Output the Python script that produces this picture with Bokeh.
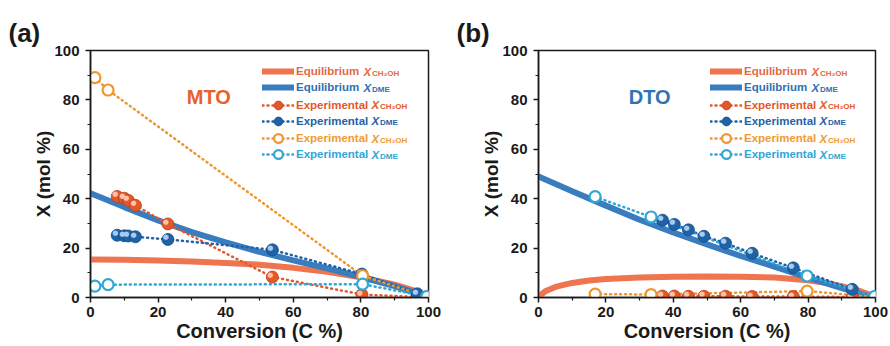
from bokeh.plotting import figure
from bokeh.layouts import row
from bokeh.models import Range1d, Label, Legend, LegendItem, ColumnDataSource, FixedTicker
from bokeh.embed import file_html
from bokeh.resources import INLINE
from bokeh.core.properties import value

FONT = "Liberation Sans"

# ---------------- tick values ----------------
major_ticks = [0, 20, 40, 60, 80, 100]
minor_ticks = [10, 30, 50, 70, 90]

# ---------------- panel (a) MTO ----------------
a_eq_meoh_x = [0, 10, 20, 30, 40, 50, 60, 70, 80, 90, 97]
a_eq_meoh_y = [15.4, 15.3, 15.0, 14.6, 14.0, 13.3, 12.0, 10.4, 8.2, 5.2, 2.3]
a_eq_dme_x = [0, 10, 20, 30, 40, 50, 60, 70, 80, 90, 97]
a_eq_dme_y = [42.2, 36.6, 31.2, 26.5, 22.3, 18.5, 15.0, 11.8, 8.3, 4.6, 1.5]
a_exp_meoh_x = [7.9, 10.0, 11.2, 13.3, 22.9, 53.8, 80.3, 96.7]
a_exp_meoh_y = [40.9, 40.2, 39.3, 37.3, 29.8, 8.3, 1.2, 0.2]
a_exp_dme_x = [7.9, 10.0, 11.2, 13.3, 22.9, 53.8, 80.3, 96.7]
a_exp_dme_y = [25.2, 25.0, 24.9, 24.6, 23.5, 19.3, 9.5, 1.5]
a_open_meoh_x = [1.3, 5.2, 80.5, 99.5]
a_open_meoh_y = [89.0, 84.0, 8.8, 0.3]
a_open_dme_x = [1.3, 5.2, 80.5, 99.5]
a_open_dme_y = [4.6, 5.2, 5.4, 0.4]

# ---------------- panel (b) DTO ----------------
b_eq_meoh_x = [0, 2, 5, 10, 15, 20, 30, 40, 50, 60, 70, 80, 85, 90, 95, 99]
b_eq_meoh_y = [0.3, 2.5, 4.3, 5.9, 6.9, 7.5, 8.1, 8.4, 8.5, 8.4, 8.1, 7.0, 6.0, 4.6, 2.8, 0.8]
b_eq_dme_x = [0, 10, 20, 30, 40, 50, 60, 70, 80, 90, 98]
b_eq_dme_y = [49.0, 43.0, 37.2, 31.5, 26.3, 21.5, 16.8, 12.5, 8.0, 3.8, 0.5]
b_exp_meoh_x = [36.8, 40.3, 44.5, 49.1, 55.5, 63.4, 75.6, 93.1]
b_exp_meoh_y = [0.6, 0.6, 0.5, 0.5, 0.5, 0.4, 0.4, 0.2]
b_exp_dme_x = [36.8, 40.3, 44.5, 49.1, 55.5, 63.4, 75.6, 93.1]
b_exp_dme_y = [31.3, 29.6, 27.4, 24.8, 22.0, 17.9, 12.0, 3.3]
b_open_meoh_x = [16.8, 33.4, 79.7, 99.7]
b_open_meoh_y = [1.4, 1.2, 2.6, 0.2]
b_open_dme_x = [16.8, 33.4, 79.7, 99.7]
b_open_dme_y = [40.8, 32.6, 8.7, 0.4]

# ---------------- colours ----------------
EQ_ME = "#EE7550"
EQ_DME = "#3A7DBF"
EX_ME, EX_ME_EDGE, EX_ME_HL = "#E4572A", "#B8401A", "#FBC2AA"
EX_DME, EX_DME_EDGE, EX_DME_HL = "#1E63A8", "#134B85", "#A9CBEE"
OP_ME = "#F0962E"
OP_DME = "#2EA7D6"
TXT = "#1a1a1a"

LEG_TEXT = [("Equilibrium", "#E36A45", "CH\u2083OH"),
            ("Equilibrium", "#2F70B3", "DME"),
            ("Experimental", "#E4572A", "CH\u2083OH"),
            ("Experimental", "#1E63A8", "DME"),
            ("Experimental", "#F09A33", "CH\u2083OH"),
            ("Experimental", "#2EA7D6", "DME")]
ROW_Y = [226, 210, 192.5, 176.5, 159, 143]  # frame px from bottom (row centres)


def balls(p, xs, ys, col, edge, hl, size=12):
    src = ColumnDataSource(dict(x=xs, y=ys, t=["\u25CF"] * len(xs)))
    r = p.scatter("x", "y", source=src, size=size, fill_color=col, line_color=edge, line_width=0.8)
    p.text("x", "y", text="t", source=src, text_font=value("DejaVu Sans"), text_font_size="7px",
           text_color=hl, text_align="center", text_baseline="middle", x_offset=-2, y_offset=-2)
    return r


def panel(tag, name, name_color, name_x, eq_me, eq_dme, ex_me, ex_dme, op_me, op_dme, bl, br):
    p = figure(width=445, height=346, x_range=Range1d(0, 100), y_range=Range1d(0, 100),
               output_backend="svg", toolbar_location=None,
               min_border_left=bl, min_border_right=br, min_border_top=50, min_border_bottom=49)
    p.grid.visible = False
    p.outline_line_color = TXT
    p.outline_line_width = 1.5
    for ax in (p.xaxis[0], p.yaxis[0]):
        ax.ticker = FixedTicker(ticks=major_ticks, minor_ticks=minor_ticks)
        ax.major_label_text_font = FONT
        ax.major_label_text_font_size = "15px"
        ax.major_label_text_font_style = "bold"
        ax.major_label_text_color = TXT
        ax.major_tick_out = 5
        ax.major_tick_in = 0
        ax.minor_tick_out = 3
        ax.minor_tick_in = 0
        ax.axis_line_width = 1.5
        ax.axis_line_color = TXT
        ax.major_tick_line_width = 1.5
        ax.major_tick_line_color = TXT
        ax.minor_tick_line_width = 1.2
        ax.minor_tick_line_color = TXT
        ax.axis_label_text_font = FONT
        ax.axis_label_text_font_style = "bold"
        ax.axis_label_text_color = TXT
    p.yaxis.major_label_standoff = 6
    p.yaxis.axis_label = "X (mol %)"
    p.yaxis.axis_label_text_font_size = "19px"
    p.yaxis.axis_label_standoff = -3
    p.xaxis.major_label_standoff = 4
    p.xaxis.axis_label = "Conversion (C %)"
    p.xaxis.axis_label_text_font_size = "20px"
    p.xaxis.axis_label_standoff = 0

    p.title.text = tag
    p.title.text_font = FONT
    p.title.text_font_size = "26px"
    p.title.text_font_style = "bold"
    p.title.text_color = TXT
    p.title.align = "left"
    p.title.offset = -82
    p.title.standoff = 5

    r_eq_me = p.line(eq_me[0], eq_me[1], line_color=EQ_ME, line_width=6, line_cap="round")
    r_eq_dme = p.line(eq_dme[0], eq_dme[1], line_color=EQ_DME, line_width=6, line_cap="round")

    dot = dict(line_width=2.5, line_dash="1 4", line_cap="round")
    l_ex_me = p.line(ex_me[0], ex_me[1], line_color=EX_ME, **dot)
    l_ex_dme = p.line(ex_dme[0], ex_dme[1], line_color=EX_DME, **dot)
    l_op_me = p.line(op_me[0], op_me[1], line_color=OP_ME, **dot)
    l_op_dme = p.line(op_dme[0], op_dme[1], line_color=OP_DME, **dot)

    m_ex_me = balls(p, ex_me[0], ex_me[1], EX_ME, EX_ME_EDGE, EX_ME_HL)
    m_ex_dme = balls(p, ex_dme[0], ex_dme[1], EX_DME, EX_DME_EDGE, EX_DME_HL)
    m_op_me = p.scatter(op_me[0], op_me[1], size=11, fill_color="white", line_color=OP_ME, line_width=2.2)
    m_op_dme = p.scatter(op_dme[0], op_dme[1], size=11, fill_color="white", line_color=OP_DME, line_width=2.2)

    icons = [[r_eq_me], [r_eq_dme], [l_ex_me, m_ex_me], [l_ex_dme, m_ex_dme],
             [l_op_me, m_op_me], [l_op_dme, m_op_dme]]

    for i, ((word, col, sub), rends) in enumerate(zip(LEG_TEXT, icons)):
        gh = 14 if word == "Equilibrium" else 22
        leg = Legend(items=[LegendItem(label=word, renderers=rends)],
                     location=(172, ROW_Y[i] - gh / 2), orientation="vertical",
                     border_line_alpha=0, background_fill_alpha=0, padding=0, margin=0,
                     glyph_width=32, glyph_height=gh, label_height=14, label_standoff=2,
                     label_text_font=FONT, label_text_font_size="11.5px",
                     label_text_font_style="bold", label_text_color=col)
        p.add_layout(leg)
        xx = 273 if word == "Equilibrium" else 281
        p.add_layout(Label(x=xx, y=ROW_Y[i], x_units="screen", y_units="screen", text="X",
                           text_font=FONT, text_font_size="11.5px", text_font_style="bold italic",
                           text_color=col, text_baseline="middle"))
        p.add_layout(Label(x=xx + 8.5, y=ROW_Y[i] - 1.5, x_units="screen", y_units="screen", text=sub,
                           text_font=FONT, text_font_size="8px", text_font_style="bold",
                           text_color=col, text_baseline="middle"))

    p.add_layout(Label(x=name_x, y=81, text=name, text_font=FONT, text_font_size="20px",
                       text_font_style="bold", text_color=name_color,
                       text_align="center", text_baseline="middle"))
    return p


pa = panel("(a)", "MTO", "#E8602D", 35,
           (a_eq_meoh_x, a_eq_meoh_y), (a_eq_dme_x, a_eq_dme_y),
           (a_exp_meoh_x, a_exp_meoh_y), (a_exp_dme_x, a_exp_dme_y),
           (a_open_meoh_x, a_open_meoh_y), (a_open_dme_x, a_open_dme_y), 90, 17)
pb = panel("(b)", "DTO", "#2E73B5", 33,
           (b_eq_meoh_x, b_eq_meoh_y), (b_eq_dme_x, b_eq_dme_y),
           (b_exp_meoh_x, b_exp_meoh_y), (b_exp_dme_x, b_exp_dme_y),
           (b_open_meoh_x, b_open_meoh_y), (b_open_dme_x, b_open_dme_y), 93, 15)

layout = row(pa, pb)
open("out.html", "w").write(file_html(layout, INLINE))
